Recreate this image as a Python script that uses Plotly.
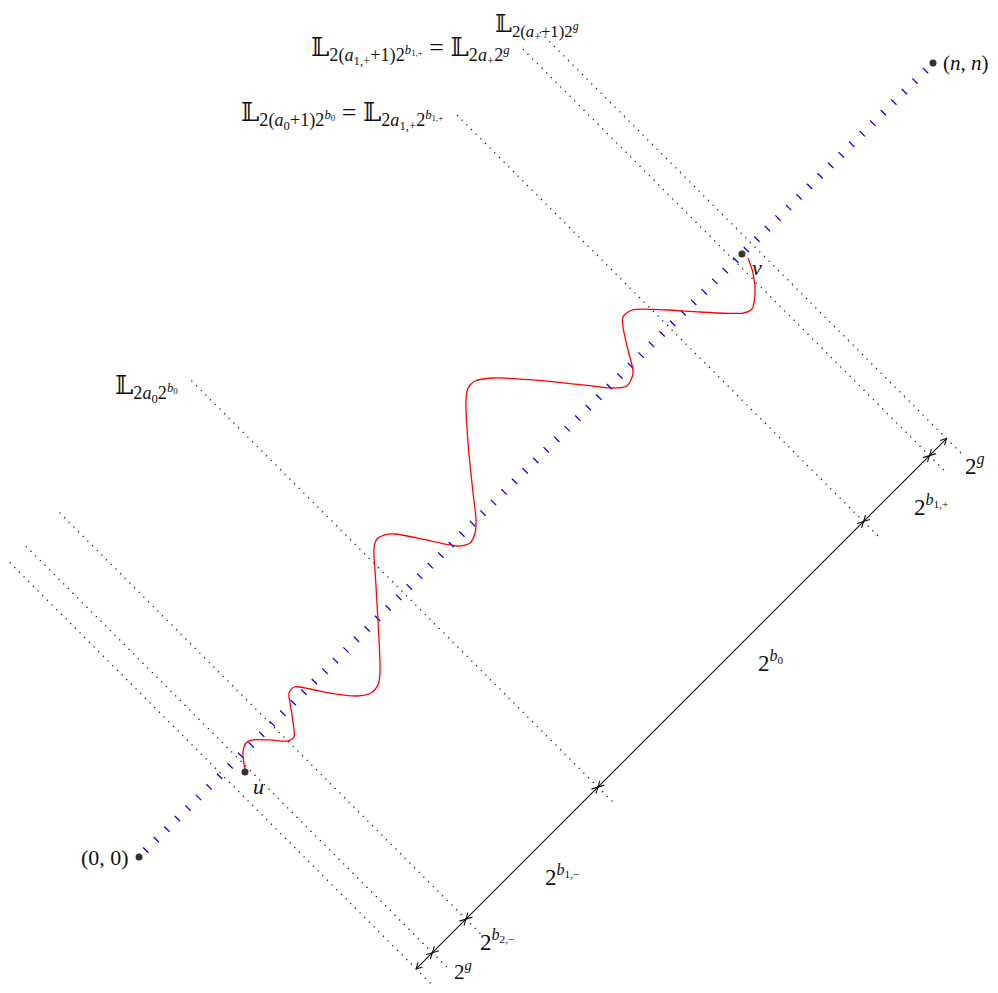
import math
import plotly.graph_objects as go

# ---------------- data (diagram units, n = 100) ----------------
N = 100.0
origin = (0.0, 0.0)
corner = (N, N)
u_pt = (13.35, 10.71)
v_pt = (75.94, 75.94)

# anti-diagonal levels (x + y = c) of the dotted lines / ruler ticks
levels = [20.8, 24.9, 33.35, 66.6, 133.5, 150.1, 154.4]
dotted_span = (-53.4, 52.8)    # extent in x - y
ruler_offset = 49.0            # ruler lies on x - y = ruler_offset

# red path from u to v
path_x = [13.35, 13.10, 13.48, 14.36, 16.50, 18.77, 19.52, 19.40, 19.02, 18.89,
          19.52, 21.54, 24.06, 27.46, 29.22, 30.10, 30.35, 30.10, 29.72, 29.60,
          29.97, 30.86, 32.24, 36.27, 40.05, 41.69, 42.32, 42.44, 42.07, 41.44,
          41.18, 41.44, 42.32, 44.58, 49.62, 55.92, 59.70, 61.46, 62.22, 61.59,
          60.96, 60.96, 62.09, 66.50, 70.65, 76.07, 77.20, 77.58, 77.33, 76.70]
path_y = [10.96, 13.22, 14.36, 14.74, 14.74, 14.61, 15.11, 17.00, 19.40, 20.65,
          21.41, 21.16, 20.65, 20.28, 20.65, 21.66, 23.17, 29.85, 36.15, 38.92,
          40.05, 40.55, 40.68, 39.92, 39.17, 39.55, 40.81, 42.44, 45.84, 52.14,
          57.56, 59.07, 59.95, 60.33, 60.08, 59.45, 59.07, 59.32, 60.96, 63.85,
          66.75, 68.01, 68.89, 68.89, 68.64, 68.51, 69.02, 71.03, 73.55, 75.44]

# ---------------- figure ----------------
W, H = 982, 977          # page body has an 8px margin
OFF = 8
PX = 7.94                # pixels per unit
OX, OY = 139, 857        # page position of the origin
XR = [(OFF - OX) / PX, (OFF + W - OX) / PX]
YR = [(OY - OFF - H) / PX, (OY - OFF) / PX]

fig = go.Figure()

# dotted lines x + y = c
for c in levels:
    d0, d1 = dotted_span
    fig.add_trace(go.Scatter(
        x=[(c + d0) / 2, (c + d1) / 2], y=[(c - d0) / 2, (c - d1) / 2],
        mode="lines", line=dict(color="#222", width=1.3, dash="1.3px,5.3px"),
        hoverinfo="skip", showlegend=False))

# blue hatched diagonal
fig.add_trace(go.Scatter(
    x=[origin[0], corner[0]], y=[origin[1], corner[1]],
    mode="lines", line=dict(color="blue", width=7.5, dash="0px,9px,1.3px,4.6px"),
    hoverinfo="skip", showlegend=False))

# ruler with arrows between successive levels
def rp(c):
    return ((c + ruler_offset) / 2, (c - ruler_offset) / 2)

rx, ry = [], []
p0, p1 = rp(levels[0]), rp(levels[-1])
rx += [p0[0], p1[0], None]
ry += [p0[1], p1[1], None]
L, Wd = 6.0 / PX, 3.2 / PX
dirv = (1 / math.sqrt(2), 1 / math.sqrt(2))
perp = (-dirv[1], dirv[0])
for a, b in zip(levels[:-1], levels[1:]):
    A, B = rp(a), rp(b)
    for P, s in ((B, 1), (A, -1)):
        bx, by = P[0] - s * L * dirv[0], P[1] - s * L * dirv[1]
        rx += [bx + Wd * perp[0], P[0], bx - Wd * perp[0], None]
        ry += [by + Wd * perp[1], P[1], by - Wd * perp[1], None]
fig.add_trace(go.Scatter(x=rx, y=ry, mode="lines",
                         line=dict(color="#111", width=1.1),
                         hoverinfo="skip", showlegend=False))

# red path
fig.add_trace(go.Scatter(x=path_x, y=path_y, mode="lines",
                         line=dict(color="red", width=1.3, shape="spline", smoothing=0.8),
                         hoverinfo="skip", showlegend=False))

# points
pts = [origin, corner, u_pt, v_pt]
fig.add_trace(go.Scatter(x=[p[0] for p in pts], y=[p[1] for p in pts], mode="markers",
                         marker=dict(color="#333", size=7),
                         hoverinfo="skip", showlegend=False))

FAM = "Liberation Serif, DejaVu Serif, serif"
LL = "\U0001D543"

def lab(x, y, text, xa="center", size=23, ya="middle", yshift=0):
    fig.add_annotation(x=x, y=y, text=text, showarrow=False, xanchor=xa, yanchor=ya,
                       yshift=yshift, font=dict(family=FAM, size=size, color="#111"))

lab(-1.0, 0.0, "(0, 0)", "right", 22)
lab(101.0, 100.0, "(<i>n</i>, <i>n</i>)", "left", 21)
lab(15.0, 8.9, "<i>u</i>", size=22)
lab(77.8, 74.2, "<i>v</i>", size=22)
lab(79.6, 24.6, "2<sup><i>b</i><sub>0</sub></sup>")
lab(53.3, -2.3, "2<sup><i>b</i><sub>1,−</sub></sup>")
lab(45.1, -10.5, "2<sup><i>b</i><sub>2,−</sub></sup>")
lab(40.8, -14.3, "2<sup><i>g</i></sup>", size=21)
lab(99.7, 44.3, "2<sup><i>b</i><sub>1,+</sub></sup>")
lab(105.3, 49.4, "2<sup><i>g</i></sup>")

lab(50.1, 106.85, LL + "<sub>2(<i>a</i><sub>+</sub>+1)2<sup><i>g</i></sup></sub>",
    size=24, ya="top")
lab(47.0, 101.6, LL + "<sub>2(<i>a</i><sub>1,+</sub>+1)2<sup><i>b</i><sub>1,+</sub></sup></sub> = "
    + LL + "<sub>2<i>a</i><sub>+</sub>2<sup><i>g</i></sup></sub>", "right", 26)
lab(38.5, 93.4, LL + "<sub>2(<i>a</i><sub>0</sub>+1)2<sup><i>b</i><sub>0</sub></sup></sub> = "
    + LL + "<sub>2<i>a</i><sub>1,+</sub>2<sup><i>b</i><sub>1,+</sub></sup></sub>", "right", 26)
lab(5.2, 59.0, LL + "<sub>2<i>a</i><sub>0</sub>2<sup><i>b</i><sub>0</sub></sup></sub>", "right", 26)

fig.update_layout(
    width=W, height=H, margin=dict(l=0, r=0, t=0, b=0),
    plot_bgcolor="white", paper_bgcolor="white",
    xaxis=dict(range=XR, visible=False, fixedrange=True),
    yaxis=dict(range=YR, visible=False, fixedrange=True),
)

fig.write_html("out.html")
